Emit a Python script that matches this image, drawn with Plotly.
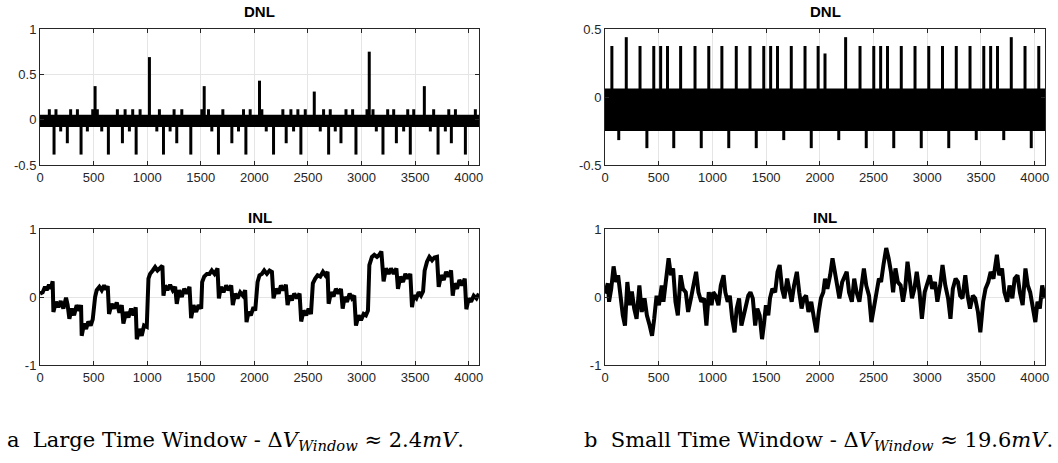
import plotly.graph_objects as go

# ---------------- data ----------------
X_MAX = 4096

# (a) DNL: dense band around zero + individual spikes
dnlA_band = [-0.08, 0.055]
dnlA_pos_small = [87, 149, 286, 349, 492, 535, 722, 794, 865, 934, 1114, 1251, 1323,
                  1510, 1572, 1706, 1899, 1961, 2070, 2266, 2341, 2406, 2475, 2646,
                  2708, 2855, 2917, 3051, 3107, 3244, 3300, 3431, 3487, 3673, 3814,
                  3876, 4062]
dnlA_val_small = [0.115] * len(dnlA_pos_small)
dnlA_pos_big = [514, 1021, 1532, 2048, 2559, 3072, 3586]
dnlA_val_big = [0.37, 0.69, 0.37, 0.43, 0.31, 0.75, 0.37]
dnlA_pos_neg1 = [131, 383, 638, 897, 1152, 1407, 1665, 1921, 2179, 2434, 2693, 2948,
                 3200, 3455, 3714, 3969]
dnlA_val_neg1 = [-0.385] * len(dnlA_pos_neg1)
dnlA_pos_neg2 = [255, 769, 1276, 1790, 2297, 2808, 3325, 3838]
dnlA_val_neg2 = [-0.26] * len(dnlA_pos_neg2)
dnlA_pos_neg3 = [193, 442, 576, 834, 1090, 1214, 1603, 1852, 2111, 2366, 2615, 2755,
                 3138, 3393, 3642, 3782]
dnlA_val_neg3 = [-0.13] * len(dnlA_pos_neg3)

# (a) INL
inlA_x = [0, 25, 47, 62, 84, 100, 118,
          125, 149, 171, 193, 218, 243, 258,
          274, 296, 318, 342, 367, 383,
          389, 411, 430, 451, 473, 492,
          514, 529, 554, 576, 598, 616, 632,
          644, 669, 691, 716, 741, 763,
          778, 803, 825, 850, 872, 893,
          903, 928, 949, 971, 996,
          1012, 1027, 1052, 1074, 1096, 1121, 1142,
          1152, 1167, 1189, 1214, 1239, 1261,
          1276, 1298, 1323, 1345, 1370, 1395,
          1410, 1432, 1457, 1479, 1504,
          1513, 1532, 1557, 1581, 1603, 1628, 1656,
          1669, 1687, 1712, 1737, 1759, 1784,
          1799, 1821, 1843, 1868, 1893, 1914,
          1927, 1946, 1967, 1992, 2008,
          2030, 2048, 2070, 2092, 2117, 2142, 2164,
          2179, 2201, 2226, 2248, 2272, 2294,
          2310, 2328, 2350, 2372, 2397, 2422,
          2437, 2459, 2484, 2506, 2528,
          2546, 2568, 2590, 2615, 2640, 2662, 2683,
          2693, 2715, 2739, 2761, 2786, 2808,
          2824, 2842, 2864, 2889, 2911, 2932,
          2948, 2973, 2995, 3020, 3041, 3060,
          3073, 3097, 3119, 3144, 3166, 3185,
          3206, 3228, 3253, 3275, 3300, 3325,
          3340, 3362, 3387, 3409, 3431, 3455,
          3471, 3487, 3511, 3533, 3555, 3574,
          3589, 3611, 3633, 3658, 3680, 3704,
          3720, 3742, 3767, 3789, 3813, 3835,
          3851, 3866, 3891, 3913, 3938, 3963,
          3978, 4000, 4022, 4047, 4072, 4095]
inlA_y = [0.05, 0.07, 0.15, 0.10, 0.18, 0.12, 0.23,
          -0.22, -0.07, -0.15, -0.06, -0.17, -0.01, -0.12,
          -0.32, -0.17, -0.27, -0.12, -0.20, -0.12,
          -0.57, -0.39, -0.47, -0.36, -0.42, -0.33,
          0.00, 0.10, 0.15, 0.10, 0.17, 0.11, 0.16,
          -0.25, -0.10, -0.17, -0.08, -0.23, -0.12,
          -0.39, -0.22, -0.30, -0.17, -0.27, -0.15,
          -0.62, -0.47, -0.57, -0.42, -0.44,
          0.27, 0.34, 0.39, 0.44, 0.39, 0.44, 0.46,
          0.02, 0.17, 0.10, 0.18, 0.10, 0.15,
          -0.10, 0.10, 0.00, 0.12, 0.05, 0.15,
          -0.31, -0.12, -0.22, -0.12, -0.17,
          0.22, 0.30, 0.34, 0.34, 0.39, 0.34, 0.42,
          -0.02, 0.15, 0.07, 0.17, 0.10, 0.17,
          -0.12, 0.05, -0.02, 0.07, 0.02, 0.10,
          -0.37, -0.22, -0.27, -0.15, -0.20,
          0.22, 0.32, 0.34, 0.39, 0.34, 0.39, 0.37,
          -0.02, 0.12, 0.05, 0.17, 0.10, 0.18,
          -0.12, 0.02, -0.05, 0.05, -0.02, 0.05,
          -0.36, -0.20, -0.27, -0.17, -0.25,
          0.20, 0.27, 0.32, 0.30, 0.37, 0.32, 0.37,
          -0.10, 0.07, 0.01, 0.12, 0.05, 0.12,
          -0.17, 0.00, -0.07, 0.05, -0.02, 0.02,
          -0.42, -0.27, -0.34, -0.25, -0.27, -0.20,
          0.47, 0.59, 0.62, 0.59, 0.62, 0.67,
          0.23, 0.42, 0.34, 0.42, 0.34, 0.42,
          0.12, 0.30, 0.22, 0.34, 0.27, 0.34,
          -0.15, 0.02, -0.02, 0.07, 0.02, 0.08,
          0.39, 0.52, 0.59, 0.54, 0.58, 0.59,
          0.15, 0.32, 0.25, 0.37, 0.30, 0.39,
          0.02, 0.20, 0.12, 0.25, 0.17, 0.27,
          -0.18, -0.02, -0.07, 0.02, -0.02, 0.05]

# (b) DNL
dnlB_band = [-0.25, 0.062]
dnlB_pos_pos = [64, 198, 326, 454, 518, 582, 704, 838, 966, 1088, 1222, 1350, 1478,
                1542, 1606, 1734, 1862, 1984, 2048, 2240, 2374, 2502, 2566, 2630,
                2758, 2886, 3014, 3142, 3270, 3398, 3526, 3590, 3654, 3782, 3910, 4038]
dnlB_val_pos = [0.375, 0.44, 0.375, 0.375, 0.375, 0.375, 0.375, 0.375, 0.375, 0.375,
                0.375, 0.375, 0.375, 0.375, 0.375, 0.375, 0.375, 0.375, 0.32, 0.44,
                0.375, 0.375, 0.375, 0.375, 0.375, 0.375, 0.375, 0.375, 0.375, 0.375,
                0.375, 0.375, 0.375, 0.44, 0.375, 0.375]
dnlB_pos_neg = [128, 390, 640, 896, 1152, 1408, 1664, 1920, 2176, 2432, 2688, 2944,
                3200, 3456, 3712, 3968]
dnlB_val_neg = [-0.317, -0.376, -0.376, -0.376, -0.376, -0.376, -0.317, -0.376,
                -0.317, -0.376, -0.376, -0.376, -0.376, -0.317, -0.317, -0.376]

# (b) INL
inlB_x = [0, 26, 38, 58, 80, 102, 122, 144, 166, 186, 208, 230, 250, 272, 294, 320,
          342, 368, 390, 416, 438, 458, 480, 502, 528, 544, 570, 592, 614, 634, 656,
          678, 704, 726, 752, 774, 800, 826, 848, 870, 896, 922, 944, 966, 992, 1008,
          1030, 1056, 1078, 1104, 1120, 1142, 1162, 1184, 1206, 1226, 1248, 1270,
          1290, 1312, 1334, 1354, 1376, 1398, 1418, 1440, 1462, 1478, 1498, 1520,
          1536, 1558, 1584, 1606, 1626, 1648, 1670, 1696, 1718, 1738, 1760, 1786,
          1808, 1830, 1850, 1872, 1894, 1920, 1946, 1968, 1990, 2010, 2032, 2048,
          2070, 2096, 2118, 2138, 2160, 2182, 2208, 2230, 2250, 2272, 2298, 2320,
          2342, 2368, 2390, 2410, 2432, 2458, 2480, 2502, 2528, 2550, 2570, 2592,
          2618, 2640, 2662, 2682, 2704, 2726, 2752, 2774, 2794, 2816, 2838, 2858,
          2880, 2902, 2928, 2950, 2976, 3002, 3024, 3046, 3072, 3094, 3120, 3142,
          3168, 3194, 3216, 3238, 3264, 3286, 3306, 3328, 3354, 3376, 3398, 3424,
          3446, 3472, 3494, 3520, 3542, 3568, 3590, 3616, 3648, 3670, 3696, 3718,
          3744, 3766, 3792, 3814, 3840, 3862, 3888, 3914, 3936, 3958, 3984, 4006,
          4026, 4048, 4070, 4095]
inlB_y = [0.05, 0.20, -0.07, 0.12, 0.45, 0.22, 0.32, 0.02, -0.27, -0.42, 0.22, -0.12,
          0.08, -0.17, -0.32, 0.17, -0.22, -0.02, -0.27, -0.42, -0.57, -0.32, 0.02,
          -0.12, 0.17, -0.07, 0.35, 0.57, 0.32, 0.42, -0.07, -0.27, 0.32, 0.12, 0.07,
          -0.22, -0.02, 0.17, 0.37, 0.07, -0.07, -0.02, -0.42, 0.07, -0.12, 0.07,
          0.02, -0.12, 0.17, 0.32, 0.07, -0.07, 0.02, -0.32, -0.52, -0.17, -0.02,
          -0.42, -0.27, -0.12, 0.02, 0.07, -0.02, -0.42, -0.17, -0.27, -0.62, -0.42,
          -0.12, -0.27, -0.02, 0.12, 0.07, 0.37, 0.47, 0.12, -0.02, 0.27, 0.07,
          -0.07, 0.17, 0.37, 0.07, -0.17, -0.02, 0.02, -0.22, -0.07, -0.32, -0.52,
          -0.22, -0.02, 0.07, 0.27, 0.12, 0.32, 0.57, 0.37, 0.17, -0.02, 0.22, 0.32,
          0.37, 0.07, -0.07, 0.27, 0.07, -0.07, 0.22, 0.42, 0.17, 0.02, -0.37, -0.12,
          0.07, 0.27, 0.22, 0.47, 0.72, 0.57, 0.37, 0.07, 0.42, 0.22, 0.17, -0.07,
          0.12, 0.52, 0.27, -0.02, 0.12, 0.37, 0.07, -0.32, 0.07, 0.22, 0.32, 0.12,
          0.22, -0.07, 0.17, 0.47, 0.17, -0.02, -0.32, 0.12, 0.27, 0.22, 0.02, -0.02,
          0.32, 0.02, -0.17, 0.02, -0.02, -0.22, -0.52, -0.07, 0.12, 0.22, 0.37, 0.27,
          0.62, 0.32, 0.42, 0.07, -0.07, 0.17, -0.02, 0.27, 0.32, 0.07, -0.12, 0.42,
          0.17, 0.07, -0.22, -0.37, -0.07, -0.17, 0.17, -0.02]

x_ticks = [0, 500, 1000, 1500, 2000, 2500, 3000, 3500, 4000]
dnlA_yticks = [-0.5, 0, 0.5, 1]
dnlA_ytext = ["-0.5", "0", "0.5", "1"]
dnlB_yticks = [-0.5, 0, 0.5]
dnlB_ytext = ["-0.5", "0", "0.5"]
inl_yticks = [-1, 0, 1]
inl_ytext = ["-1", "0", "1"]

# ---------------- helpers ----------------
def spikes(pos, val):
    xs, ys = [], []
    for p, v in zip(pos, val):
        xs += [p, p, None]
        ys += [0, v, None]
    return xs, ys

def band(lo_hi):
    lo, hi = lo_hi
    return [0, X_MAX, X_MAX, 0, 0], [lo, lo, hi, hi, lo]

fig = go.Figure()
BLACK = "#000000"

def add_band(xa, ya, b):
    bx, by = band(b)
    fig.add_trace(go.Scatter(x=bx, y=by, fill="toself", fillcolor=BLACK,
                             line=dict(width=0), mode="lines",
                             xaxis=xa, yaxis=ya, showlegend=False, hoverinfo="skip"))

def add_spikes(xa, ya, pos, val, w=3):
    sx, sy = spikes(pos, val)
    fig.add_trace(go.Scatter(x=sx, y=sy, mode="lines", line=dict(color=BLACK, width=w),
                             xaxis=xa, yaxis=ya, showlegend=False, hoverinfo="skip"))

# (a) DNL -> x, y
add_band("x", "y", dnlA_band)
add_spikes("x", "y", dnlA_pos_small, dnlA_val_small)
add_spikes("x", "y", dnlA_pos_big, dnlA_val_big)
add_spikes("x", "y", dnlA_pos_neg1, dnlA_val_neg1)
add_spikes("x", "y", dnlA_pos_neg2, dnlA_val_neg2)
add_spikes("x", "y", dnlA_pos_neg3, dnlA_val_neg3)
# (a) INL -> x3, y3
fig.add_trace(go.Scatter(x=inlA_x, y=inlA_y, mode="lines", line=dict(color=BLACK, width=4),
                         xaxis="x3", yaxis="y3", showlegend=False))
# (b) DNL -> x2, y2
add_band("x2", "y2", dnlB_band)
add_spikes("x2", "y2", dnlB_pos_pos, dnlB_val_pos)
add_spikes("x2", "y2", dnlB_pos_neg, dnlB_val_neg)
# (b) INL -> x4, y4
fig.add_trace(go.Scatter(x=inlB_x, y=inlB_y, mode="lines", line=dict(color=BLACK, width=4),
                         xaxis="x4", yaxis="y4", showlegend=False))

W, H = 1058, 463

def px_x(p):
    return p / W

def px_y(p):
    return 1 - p / H

left_dom = [px_x(40), px_x(479)]
right_dom = [px_x(605), px_x(1045)]
top_dom = [px_y(165), px_y(29)]
bot_dom = [px_y(365), px_y(229)]

AX_COL = "#262626"
GRID = "#e5e5e5"
TICKFONT = dict(family="Liberation Sans, Arial, sans-serif", size=13, color=AX_COL)

def xaxis(dom, anchor):
    return dict(domain=dom, anchor=anchor, range=[0, X_MAX], tickvals=x_ticks,
                ticktext=[str(t) for t in x_ticks], showgrid=True, gridcolor=GRID,
                gridwidth=1, zeroline=False, showline=True, linecolor=AX_COL,
                linewidth=1, mirror="ticks", ticks="inside", ticklen=4,
                tickcolor=AX_COL, tickfont=TICKFONT, fixedrange=True, automargin=False)

def yaxis(dom, anchor, rng, vals, text):
    return dict(domain=dom, anchor=anchor, range=rng, tickvals=vals, ticktext=text,
                showgrid=True, gridcolor=GRID, gridwidth=1, zeroline=False,
                showline=True, linecolor=AX_COL, linewidth=1, mirror="ticks",
                ticks="inside", ticklen=4, tickcolor=AX_COL, tickfont=TICKFONT,
                fixedrange=True, automargin=False)

fig.update_layout(
    width=W, height=H, autosize=False,
    margin=dict(l=0, r=0, t=0, b=0, pad=0),
    paper_bgcolor="white", plot_bgcolor="white",
    xaxis=xaxis(left_dom, "y"),
    yaxis=yaxis(top_dom, "x", [-0.5, 1], dnlA_yticks, dnlA_ytext),
    xaxis2=xaxis(right_dom, "y2"),
    yaxis2=yaxis(top_dom, "x2", [-0.5, 0.5], dnlB_yticks, dnlB_ytext),
    xaxis3=xaxis(left_dom, "y3"),
    yaxis3=yaxis(bot_dom, "x3", [-1, 1], inl_yticks, inl_ytext),
    xaxis4=xaxis(right_dom, "y4"),
    yaxis4=yaxis(bot_dom, "x4", [-1, 1], inl_yticks, inl_ytext),
)

TITLEFONT = dict(family="Liberation Sans, Arial, sans-serif", size=15, color="#000000")
titles = [("DNL", left_dom, 11), ("DNL", right_dom, 11),
          ("INL", left_dom, 217), ("INL", right_dom, 217)]
for txt, dom, ypx in titles:
    fig.add_annotation(text="<b>%s</b>" % txt, x=(dom[0] + dom[1]) / 2, y=px_y(ypx),
                       xref="paper", yref="paper", showarrow=False,
                       xanchor="center", yanchor="middle", font=TITLEFONT)

CAPFONT = dict(family="DejaVu Serif, serif", size=21, color="#000000")
captions = [
    ("a  Large Time Window - Δ<i>V</i><sub><i>Window</i></sub> ≈ 2.4<i>mV</i>.", 5),
    ("b  Small Time Window - Δ<i>V</i><sub><i>Window</i></sub> ≈ 19.6<i>mV</i>.", 582),
]
for txt, xpx in captions:
    fig.add_annotation(text=txt, x=px_x(xpx), y=px_y(441), xref="paper", yref="paper",
                       showarrow=False, xanchor="left", yanchor="middle", font=CAPFONT)

# remove the default page margin so the figure sits at the window's top-left corner
fig.write_html("out.html",
               config={"displayModeBar": False, "staticPlot": True},
               post_script="document.body.style.margin='0';document.body.style.overflow='hidden';")
